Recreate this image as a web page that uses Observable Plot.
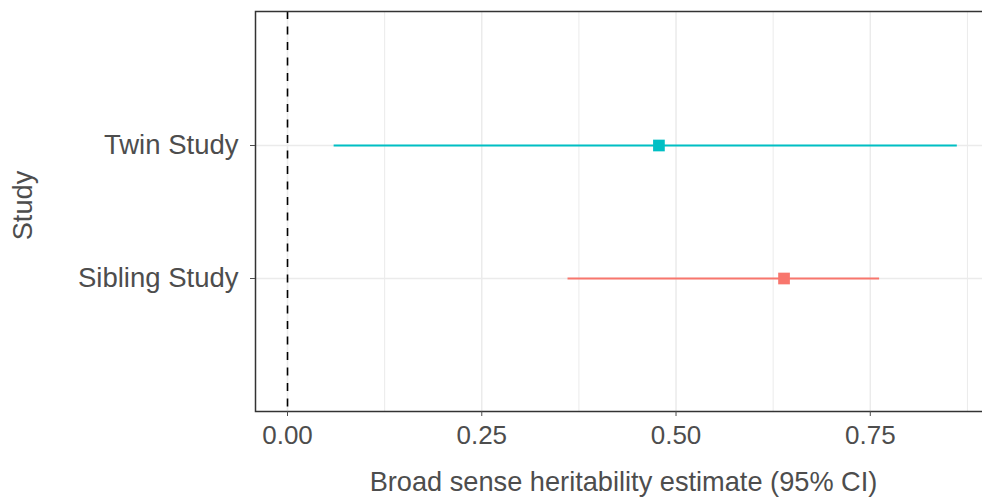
<!DOCTYPE html>
<html>
<head>
<meta charset="utf-8">
<script src="https://cdn.jsdelivr.net/npm/d3@7"></script>
<script src="https://cdn.jsdelivr.net/npm/@observablehq/plot@0.6"></script>
<style>
  html, body { margin: 0; padding: 0; background: white; overflow: hidden; }
</style>
</head>
<body>
<div id="chart"></div>
<script>
const studies = ["Twin Study", "Sibling Study"];
const estimates = [0.478, 0.639];
const lower = [0.06, 0.361];
const upper = [0.862, 0.762];
const xTicks = [0, 0.25, 0.5, 0.75];
const xMinorTicks = [0.125, 0.375, 0.625, 0.875];
const xLabel = "Broad sense heritability estimate (95% CI)";
const yLabel = "Study";
const colorDomain = ["Sibling Study", "Twin Study"];
const colorRange = ["#F8766D", "#00BFC4"];

const data = studies.map((s, i) => ({study: s, est: estimates[i], lo: lower[i], hi: upper[i]}));

const chart = Plot.plot({
  width: 982,
  height: 497,
  marginLeft: 255,
  marginRight: -9,
  marginTop: 11,
  marginBottom: 86,
  style: {fontFamily: "'Liberation Sans', Arial, Helvetica, sans-serif", fontSize: "27px", color: "#4d4d4d", background: "white"},
  x: {domain: [-0.0412, 0.906]},
  y: {type: "point", domain: studies, padding: 1},
  color: {domain: colorDomain, range: colorRange},
  marks: [
    Plot.ruleX(xMinorTicks, {stroke: "#ebebeb", strokeWidth: 1}),
    Plot.ruleX(xTicks, {stroke: "#ebebeb", strokeWidth: 1.5}),
    Plot.ruleY(studies, {stroke: "#ebebeb", strokeWidth: 1.5}),
    Plot.ruleX([0], {stroke: "black", strokeWidth: 1.6, strokeDasharray: "8,7.5"}),
    Plot.ruleY(data, {y: "study", x1: "lo", x2: "hi", stroke: "study", strokeWidth: 2}),
    Plot.dot(data, {x: "est", y: "study", fill: "study", symbol: "square", r: 6.6}),
    Plot.frame({stroke: "#333", strokeWidth: 1.5}),
    Plot.axisX({ticks: xTicks, tickFormat: d3.format(".2f"), tickSize: 5, tickPadding: 9, label: null, fontSize: "26px"}),
    Plot.axisY({tickSize: 5, tickPadding: 12, label: null, fontSize: "27.5px"}),
    Plot.text([xLabel], {frameAnchor: "bottom", text: d => d, dy: 71, fontSize: "27.2px", fill: "#4d4d4d", lineAnchor: "middle", textAnchor: "middle"}),
    Plot.text([yLabel], {frameAnchor: "left", text: d => d, dx: -232, dy: -6, rotate: -90, fontSize: "27.2px", fill: "#4d4d4d", lineAnchor: "middle", textAnchor: "middle"})
  ]
});
document.getElementById("chart").appendChild(chart);
</script>
</body>
</html>
